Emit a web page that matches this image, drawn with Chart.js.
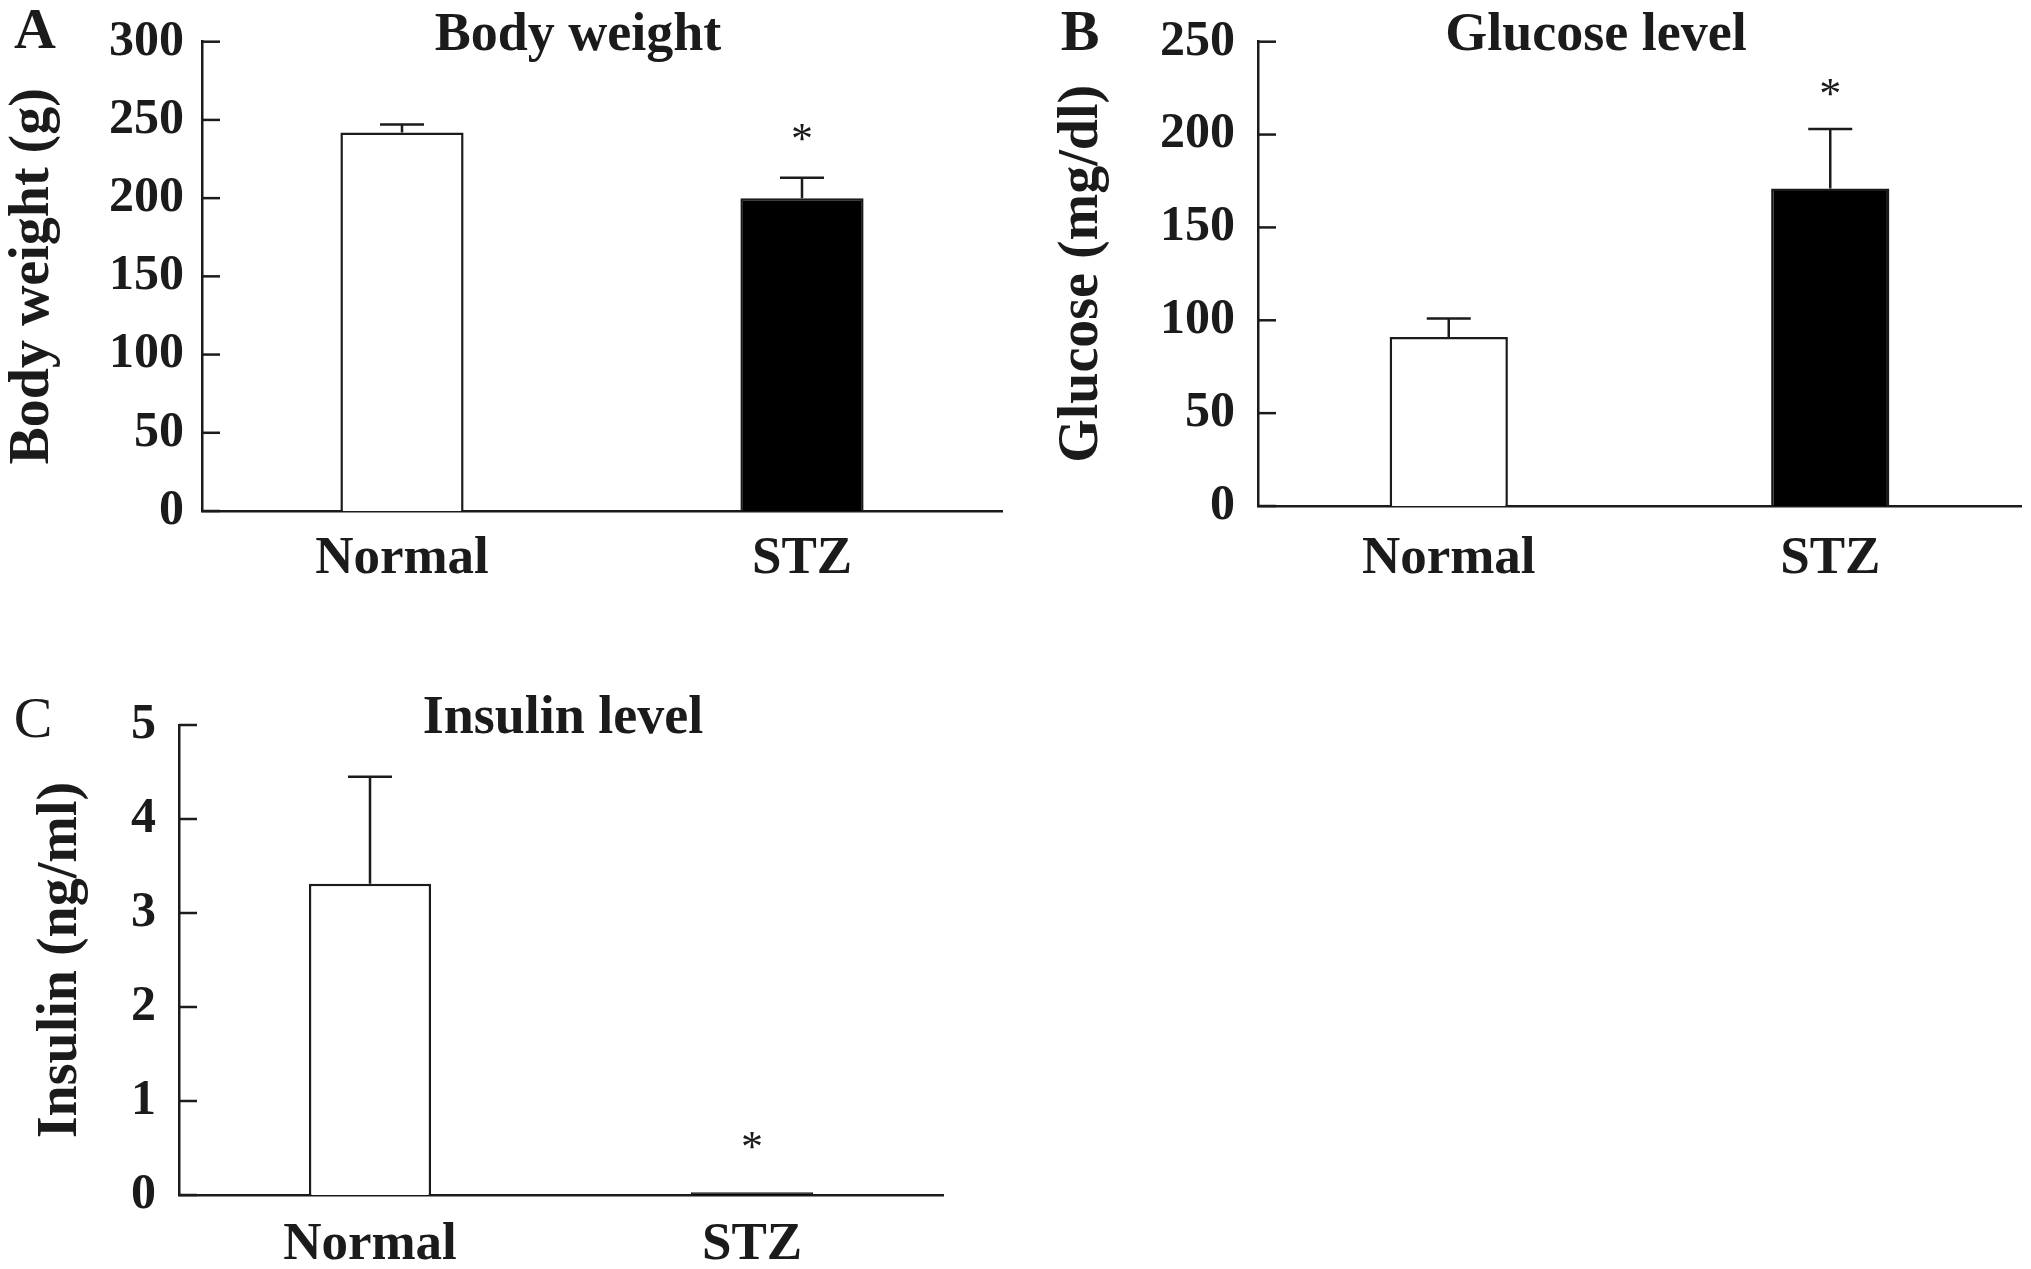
<!DOCTYPE html>
<html>
<head>
<meta charset="utf-8">
<script src="https://cdn.jsdelivr.net/npm/chart.js@4.4.1/dist/chart.umd.min.js"></script>
<style>
  html, body { margin: 0; padding: 0; background: #fff; }
  body { width: 2031px; height: 1269px; position: relative; overflow: hidden; }
  canvas { position: absolute; }
</style>
</head>
<body>
<canvas id="chartA" width="1010" height="600" style="left:0;top:0"></canvas>
<canvas id="chartB" width="1016" height="600" style="left:1015px;top:0"></canvas>
<canvas id="chartC" width="1010" height="619" style="left:0;top:650px"></canvas>
<script>
// data
const groups = ["Normal", "STZ"];
const starred = [false, true];

const weightMean = [242, 200];
const weightErr = [5, 13];
const weightTicks = [0, 50, 100, 150, 200, 250, 300];

const glucoseMean = [91, 171];
const glucoseErr = [10, 32];
const glucoseTicks = [0, 50, 100, 150, 200, 250];

const insulinMean = [3.31, 0.03];
const insulinErr = [1.14, 0];
const insulinTicks = [0, 1, 2, 3, 4, 5];

const serif = "'Liberation Serif', 'Times New Roman', serif";
const ink = "#1b1b1b";

// inward ticks, upper error bars, asterisks, panel letter and title
const panelPlugin = {
  id: "panel",
  afterDatasetsDraw(chart) {
    const ctx = chart.ctx;
    const y = chart.scales.y;
    const ds = chart.data.datasets[0];
    const meta = chart.getDatasetMeta(0);
    const p = chart.options.plugins.panel;
    ctx.save();
    ctx.strokeStyle = ink;
    ctx.lineWidth = 2.5;
    y.ticks.forEach((t) => {
      const py = y.getPixelForValue(t.value);
      ctx.beginPath();
      ctx.moveTo(y.right, py);
      ctx.lineTo(y.right + 18, py);
      ctx.stroke();
    });
    ds.errors.forEach((e, i) => {
      const bar = meta.data[i];
      const top = y.getPixelForValue(ds.data[i] + e);
      if (e > 0) {
        ctx.beginPath();
        ctx.moveTo(bar.x, bar.y);
        ctx.lineTo(bar.x, top);
        ctx.moveTo(bar.x - 22, top);
        ctx.lineTo(bar.x + 22, top);
        ctx.stroke();
      }
      if (ds.stars[i]) {
        ctx.fillStyle = ink;
        ctx.font = "44px " + serif;
        ctx.textAlign = "center";
        ctx.textBaseline = "middle";
        ctx.fillText("*", bar.x, top - p.starGap + 7);
      }
    });
    ctx.restore();
  },
  afterDraw(chart) {
    const ctx = chart.ctx;
    const p = chart.options.plugins.panel;
    ctx.save();
    ctx.fillStyle = ink;
    ctx.textAlign = "center";
    ctx.textBaseline = "middle";
    ctx.font = p.letterWeight + " 58px " + serif;
    ctx.fillText(p.letter, p.letterX, p.letterY);
    ctx.font = "bold 54px " + serif;
    ctx.fillText(p.title, p.titleX, p.titleY);
    ctx.restore();
  },
};

function makePanel(id, mean, err, ticks, yTitle, lay) {
  return new Chart(document.getElementById(id), {
    type: "bar",
    data: {
      labels: groups,
      datasets: [{
        data: mean,
        errors: err,
        stars: starred,
        backgroundColor: ["#ffffff", "#000000"],
        borderColor: ink,
        borderWidth: 2.5,
        categoryPercentage: 1,
        barPercentage: lay.barPct,
      }],
    },
    options: {
      responsive: false,
      animation: false,
      devicePixelRatio: 1,
      events: [],
      layout: { padding: { left: 0, top: lay.top, right: lay.right, bottom: 0 } },
      plugins: {
        legend: { display: false },
        tooltip: { enabled: false },
        panel: lay.panel,
      },
      scales: {
        x: {
          grid: { display: false },
          border: { color: ink, width: 2.5 },
          ticks: { color: ink, padding: lay.labelPad, font: { family: serif, size: 53, weight: "bold" } },
          afterFit: (s) => { s.height = lay.xHeight; },
        },
        y: {
          min: ticks[0],
          max: ticks[ticks.length - 1],
          // tick marks are drawn inward by the plugin; tickLength only spaces the labels
          grid: { display: false, drawTicks: true, tickLength: lay.tickPad },
          border: { color: ink, width: 2.5 },
          afterBuildTicks: (s) => { s.ticks = ticks.map((v) => ({ value: v })); },
          afterFit: (s) => { s.width = lay.axisW; },
          ticks: { color: ink, padding: 0, font: { family: serif, size: 50, weight: "bold" } },
          title: {
            display: true,
            text: yTitle,
            color: ink,
            padding: { top: lay.titlePad, bottom: 0 },
            font: { family: serif, size: 56, weight: "bold" },
          },
        },
      },
    },
    plugins: [panelPlugin],
  });
}

makePanel("chartA", weightMean, weightErr, weightTicks, "Body weight (g)", {
  top: 41.7, right: 8, xHeight: 89, axisW: 202, barPct: 0.308,
  labelPad: 9, tickPad: 18, titlePad: 0.4,
  panel: { letter: "A", letterWeight: "bold", letterX: 35, letterY: 33,
           title: "Body weight", titleX: 578, titleY: 36, starGap: 43 },
});

makePanel("chartB", glucoseMean, glucoseErr, glucoseTicks, "Glucose (mg/dl)", {
  top: 41.7, right: 10, xHeight: 94, axisW: 243, barPct: 0.31,
  labelPad: 14, tickPad: 23, titlePad: 34.4,
  panel: { letter: "B", letterWeight: "bold", letterX: 65, letterY: 35,
           title: "Glucose level", titleX: 581, titleY: 36, starGap: 40 },
});

makePanel("chartC", insulinMean, insulinErr, insulinTicks, "Insulin (ng/ml)", {
  top: 75, right: 67, xHeight: 74, axisW: 179, barPct: 0.32,
  labelPad: 11, tickPad: 23, titlePad: 28.4,
  panel: { letter: "C", letterWeight: "normal", letterX: 33, letterY: 72,
           title: "Insulin level", titleX: 563, titleY: 69, starGap: 50 },
});
</script>
</body>
</html>
